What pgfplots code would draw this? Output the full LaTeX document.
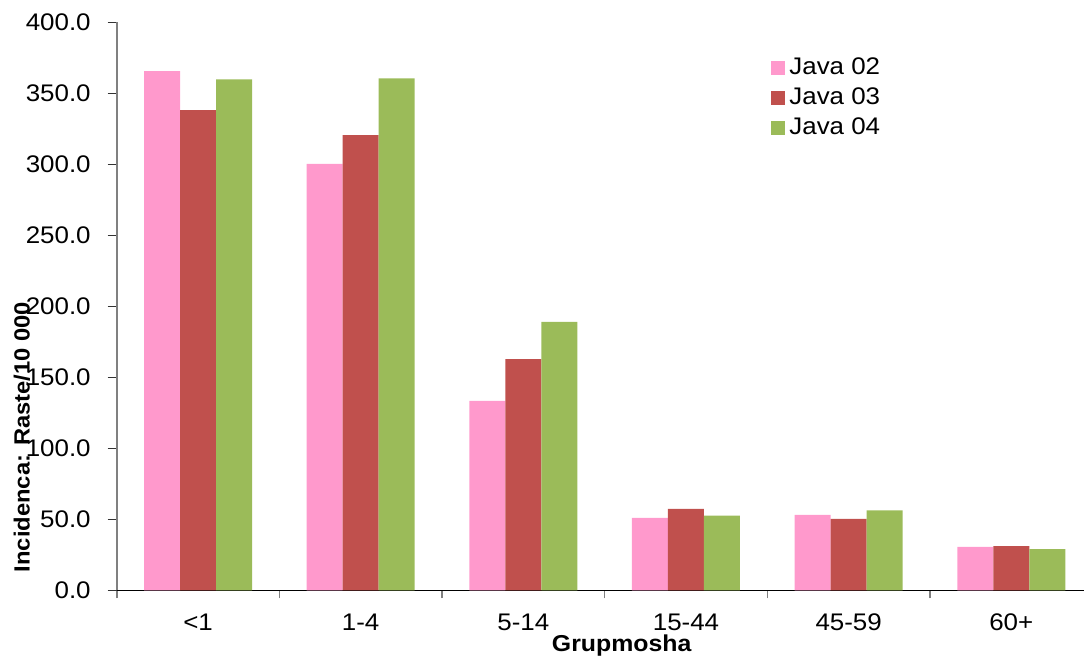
\documentclass[border=0pt]{standalone}
\usepackage{pgfplots}
\pgfplotsset{compat=1.18}
\usepackage{pgfplotstable}
\usepackage{fontspec}
\setmainfont{Liberation Sans}[FakeStretch=1.08]

\definecolor{javaA}{HTML}{FF99CC}
\definecolor{javaB}{HTML}{C0504D}
\definecolor{javaC}{HTML}{9BBB59}

% x, Java 02, Java 03, Java 04
\pgfplotstableread{
x  j02    j03    j04
0  365.8  338.2  360.0
1  300.4  320.6  360.7
2  133.5  163.0  189.1
3   51.1   57.4   52.7
4   53.2   50.4   56.5
5   30.8   31.3   29.2
}\incid

\begin{document}
\begin{tikzpicture}
\begin{axis}[
    scale only axis,
    width=483.65pt, height=284pt,
    xmin=-0.5, xmax=5.447,
    ymin=0, ymax=400,
    ybar=0pt, bar width=18pt,
    axis x line=bottom, axis y line=left,
    x axis line style={-, black, line width=0.6pt},
    y axis line style={-, gray, line width=0.8pt},
    tick align=outside,
    xtick={0,...,5},
    xticklabels={<1, 1-4, 5-14, 15-44, 45-59, 60+},
    major x tick style={draw=none},
    minor xtick={-0.5,0.5,...,4.5},
    minor x tick style={gray, line width=0.8pt},
    minor tick length=4pt,
    ytick={0,50,...,400},
    major y tick style={black!80, line width=0.6pt},
    major tick length=4.5pt,
    /pgf/number format/assume math mode=true,
    yticklabel style={/pgf/number format/.cd, fixed, fixed zerofill, precision=1, /tikz/.cd,
        font=\fontsize{12}{14}\selectfont, xshift=-5pt},
    xticklabel style={font=\fontsize{12}{14}\selectfont, yshift=-3.5pt},
    ylabel={Incidenca: Raste/10 000},
    ylabel style={font=\bfseries\fontsize{11}{13}\selectfont, at={(axis description cs:-0.098,0.27)}, anchor=center, rotate=0},
    xlabel={Grupmosha},
    xlabel style={font=\bfseries\fontsize{11.5}{13}\selectfont, at={(axis description cs:0.522,0)}, anchor=base, yshift=-30.5pt},
    legend style={draw=none, fill=none, at={(axis description cs:0.6764,0.945)}, anchor=north west,
        font=\fontsize{12}{14}\selectfont, row sep=1pt, inner sep=0pt},
    legend cell align=left,
    legend image code/.code={\fill[#1] (0pt,-3.5pt) rectangle (7pt,3.5pt);},
    clip=false,
]
\addplot[fill=javaA, draw=none] table[x=x, y=j02] {\incid};
\addplot[fill=javaB, draw=none] table[x=x, y=j03] {\incid};
\addplot[fill=javaC, draw=none] table[x=x, y=j04] {\incid};
\legend{Java 02, Java 03, Java 04}
\end{axis}
\pgfresetboundingbox
\path ([xshift=-58.35pt,yshift=-32.75pt]current axis.south west) rectangle ([yshift=11.25pt]current axis.north east);
\end{tikzpicture}
\end{document}
